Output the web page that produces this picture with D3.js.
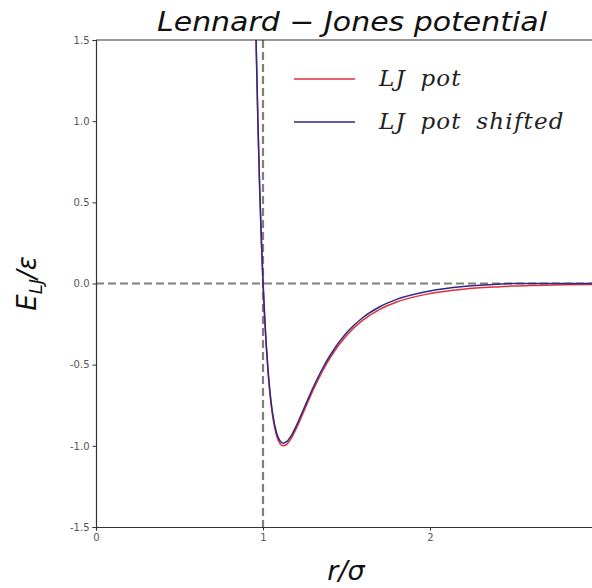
<!DOCTYPE html>
<html>
<head>
<meta charset="utf-8">
<script src="https://cdn.jsdelivr.net/npm/d3@7"></script>
<style>
  body { margin: 0; background: #fff; }
  svg { display: block; }
</style>
</head>
<body>
<script>
// values
const rValues  = [0.95, 0.955, 0.96, 0.97, 0.98, 0.99, 1.0, 1.01, 1.02, 1.03, 1.04, 1.05, 1.06, 1.08, 1.10, 1.12, 1.14, 1.17, 1.2, 1.25, 1.3, 1.35, 1.4, 1.5, 1.6, 1.7, 1.8, 2.0, 2.2, 2.4, 2.5, 2.6, 2.8, 3.0];
const ljPot    = [1.961, 1.677, 1.418, 0.963, 0.582, 0.264, 0, -0.218, -0.398, -0.544, -0.663, -0.758, -0.832, -0.932, -0.983, -1.000, -0.992, -0.952, -0.891, -0.774, -0.657, -0.552, -0.461, -0.320, -0.224, -0.159, -0.114, -0.062, -0.035, -0.021, -0.016, -0.013, -0.008, -0.005];
const ljShifted = [1.977, 1.693, 1.434, 0.979, 0.598, 0.280, 0.016, -0.202, -0.382, -0.528, -0.647, -0.742, -0.816, -0.916, -0.967, -0.984, -0.976, -0.936, -0.875, -0.758, -0.641, -0.536, -0.445, -0.304, -0.208, -0.143, -0.098, -0.046, -0.019, -0.005, 0, 0, 0, 0];
const xTicks = [0, 1, 2];
const yTicks = [-1.5, -1.0, -0.5, 0.0, 0.5, 1.0, 1.5];
const seriesNames = ["LJ pot", "LJ pot shifted"];
const seriesColors = ["#e0303c", "#2c2a84"];

const width = 592, height = 588;
const margin = {top: 40, right: -5, bottom: 61, left: 96};

const x = d3.scaleLinear().domain([0, 3]).range([margin.left, width - margin.right]);
const y = d3.scaleLinear().domain([-1.5, 1.5]).range([height - margin.bottom, margin.top]);

const svg = d3.select("body").append("svg")
    .attr("width", width)
    .attr("height", height)
    .style("font-family", "DejaVu Sans");

svg.append("clipPath").attr("id", "clip")
  .append("rect")
    .attr("x", x(0)).attr("y", y(1.5))
    .attr("width", x(3) - x(0)).attr("height", y(-1.5) - y(1.5));

// reference dashed lines
const guides = svg.append("g").attr("clip-path", "url(#clip)")
    .attr("stroke", "#7f7f7f")
    .attr("stroke-width", 2.2)
    .attr("stroke-dasharray", "8,4");
guides.append("line")
    .attr("x1", x(0)).attr("x2", x(3))
    .attr("y1", y(0)).attr("y2", y(0));
guides.append("line")
    .attr("x1", x(1)).attr("x2", x(1))
    .attr("y1", y(1.5)).attr("y2", y(-1.5));

const line = values => d3.line()
    .x((d, i) => x(rValues[i]))
    .y(d => y(d))
    .curve(d3.curveMonotoneX)(values);

const curves = svg.append("g").attr("clip-path", "url(#clip)").attr("fill", "none");
[ljPot, ljShifted].forEach((vals, i) => {
  curves.append("path")
      .attr("d", line(vals))
      .attr("stroke", seriesColors[i])
      .attr("stroke-width", 1.5);
});

// axes (matplotlib-style hyphen minus in the labels)
const fmt = d => d3.format(".1f")(d).replace("\u2212", "-");
const xAxis = svg.append("g")
    .attr("transform", `translate(0,${y(-1.5)})`)
    .call(d3.axisBottom(x).tickValues(xTicks).tickFormat(d3.format("d")).tickSize(3.5).tickPadding(3));
const yAxis = svg.append("g")
    .attr("transform", `translate(${x(0)},0)`)
    .call(d3.axisLeft(y).tickValues(yTicks).tickFormat(fmt).tickSize(3.5).tickPadding(3));
[xAxis, yAxis].forEach(g => {
  g.select(".domain").attr("stroke", "#333").attr("stroke-width", 1.2);
  g.selectAll(".tick line").attr("stroke", "#333");
  g.selectAll(".tick text").attr("fill", "#555").style("font-size", "10px").style("font-family", "DejaVu Sans");
});
svg.append("line")
    .attr("x1", x(0)).attr("x2", x(3))
    .attr("y1", y(1.5)).attr("y2", y(1.5))
    .attr("stroke", "#333").attr("stroke-width", 1.2);

// title and labels
svg.append("text")
    .attr("x", 157)
    .attr("y", 31)
    .attr("textLength", 390)
    .attr("lengthAdjust", "spacingAndGlyphs")
    .style("font-size", "26px")
    .style("font-style", "italic")
    .attr("fill", "#111")
    .text("Lennard \u2212 Jones potential");

svg.append("text")
    .attr("x", 346)
    .attr("y", 580)
    .attr("text-anchor", "middle")
    .style("font-size", "27px")
    .style("font-style", "italic")
    .attr("fill", "#111")
    .text("r/\u03c3");

const ylab = svg.append("text")
    .attr("transform", `translate(36,${y(0)}) rotate(-90)`)
    .attr("text-anchor", "middle")
    .style("font-size", "26px")
    .style("font-style", "italic")
    .attr("fill", "#111");
ylab.append("tspan").text("E");
ylab.append("tspan").attr("dy", 6).style("font-size", "18px").text("LJ");
ylab.append("tspan").attr("dy", -6).text("/\u03b5");

// legend
const legend = svg.append("g");
seriesNames.forEach((name, i) => {
  const ly = 79 + i * 43;
  legend.append("line")
      .attr("x1", 294).attr("x2", 355)
      .attr("y1", ly).attr("y2", ly)
      .attr("stroke", seriesColors[i])
      .attr("stroke-width", 1.5);
  legend.append("text")
      .attr("x", 379).attr("y", ly + 7)
      .style("font-family", "DejaVu Serif")
      .style("font-style", "italic")
      .style("font-size", "23px")
      .style("letter-spacing", "1.2px")
      .style("word-spacing", "6px")
      .attr("fill", "#222")
      .text(name);
});
</script>
</body>
</html>
